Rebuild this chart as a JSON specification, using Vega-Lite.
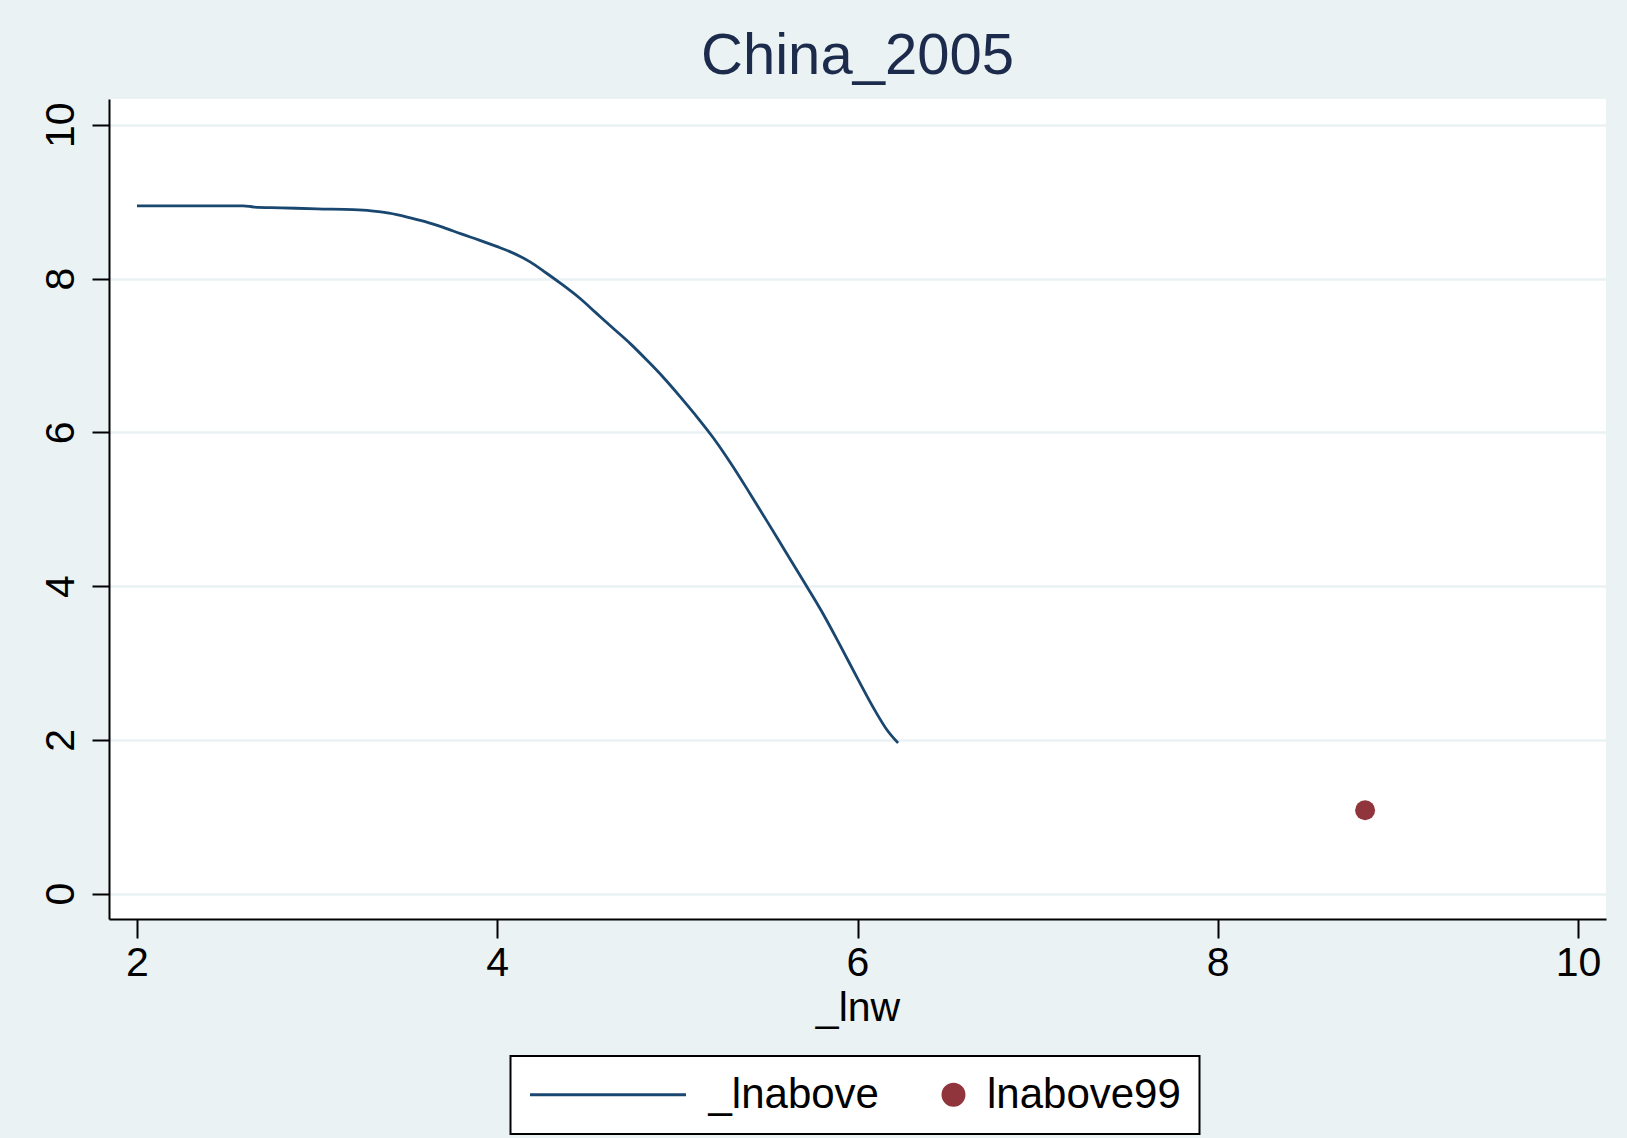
{
  "$schema": "https://vega.github.io/schema/vega-lite/v6.json",
  "autosize": {"type": "none"},
  "width": 1497,
  "height": 820,
  "padding": {"left": 109, "top": 99, "right": 21, "bottom": 219},
  "background": "#EAF2F3",
  "config": {
    "view": {"fill": "white", "stroke": null},
    "font": "Liberation Sans"
  },
  "title": {
    "text": "China_2005",
    "fontSize": 58,
    "font": "Liberation Sans",
    "fontWeight": "normal",
    "color": "#1c2b4b",
    "baseline": "alphabetic",
    "offset": -33,
    "anchor": "middle"
  },
  "encoding": {
    "x": {
      "field": "lnw",
      "type": "quantitative",
      "scale": {"domain": [1.8446, 10.1554], "nice": false, "zero": false},
      "axis": {
        "title": "_lnw",
        "values": [2, 4, 6, 8, 10],
        "grid": false,
        "domainColor": "black",
        "domainWidth": 2,
        "tickColor": "black",
        "tickWidth": 2,
        "tickSize": 19,
        "labelFontSize": 41,
        "labelFont": "Liberation Sans",
        "labelColor": "black",
        "labelPadding": 37,
        "labelBaseline": "alphabetic",
        "labelFlush": false,
        "labelOverlap": false,
        "titleFontSize": 41,
        "titleFont": "Liberation Sans",
        "titleFontWeight": "normal",
        "titleColor": "black",
        "titleBaseline": "alphabetic",
        "titleY": 101
      }
    },
    "y": {
      "field": "v",
      "type": "quantitative",
      "scale": {"domain": [-0.33, 10.335], "nice": false, "zero": false},
      "axis": {
        "title": null,
        "values": [0, 2, 4, 6, 8, 10],
        "grid": true,
        "gridColor": "#EAF2F3",
        "gridWidth": 2.5,
        "domainColor": "black",
        "domainWidth": 2,
        "tickColor": "black",
        "tickWidth": 2,
        "tickSize": 17,
        "labelAngle": -90,
        "labelAlign": "center",
        "labelBaseline": "alphabetic",
        "labelPadding": 19,
        "labelFontSize": 41,
        "labelFont": "Liberation Sans",
        "labelColor": "black",
        "labelFlush": false,
        "labelOverlap": false
      }
    },
    "color": {
      "field": "series",
      "type": "nominal",
      "scale": {"domain": ["_lnabove", "lnabove99"], "range": ["#1a476f", "#90353b"]},
      "legend": {
        "orient": "none",
        "legendX": 401.5,
        "legendY": 957,
        "direction": "horizontal",
        "columns": 2,
        "title": null,
        "symbolSize": 1764,
        "clipHeight": 41,
        "labelFontSize": 42,
        "labelFont": "Liberation Sans",
        "labelColor": "black",
        "labelOffset": 24,
        "labelLimit": 0,
        "columnPadding": 41.5,
        "padding": 18,
        "strokeColor": "black",
        "fillColor": "white",
        "encode": {
          "symbols": {
            "update": {
              "shape": {"signal": "datum.value === 'lnabove99' ? 'M-0.024,0A0.5,0.5,0,1,1,0.976,0A0.5,0.5,0,1,1,-0.024,0Z' : 'M-1,0L6.4286,0'"},
              "fill": {"signal": "datum.value === 'lnabove99' ? '#90353b' : 'transparent'"},
              "stroke": {"signal": "datum.value === 'lnabove99' ? 'transparent' : '#1a476f'"},
              "strokeWidth": {"value": 3},
              "opacity": {"value": 1}
            }
          },
          "labels": {
            "update": {
              "x": {"signal": "datum.value === '_lnabove' ? 180 : 66"}
            }
          },
          "legend": {
            "update": {"strokeWidth": {"value": 2}}
          }
        }
      }
    }
  },
  "layer": [
    {
      "data": {
        "values": [
          {"lnw": 2.0, "v": 8.945, "series": "_lnabove"},
          {"lnw": 2.3, "v": 8.945, "series": "_lnabove"},
          {"lnw": 2.59, "v": 8.945, "series": "_lnabove"},
          {"lnw": 2.65, "v": 8.93, "series": "_lnabove"},
          {"lnw": 2.8, "v": 8.92, "series": "_lnabove"},
          {"lnw": 3.0, "v": 8.905, "series": "_lnabove"},
          {"lnw": 3.2, "v": 8.895, "series": "_lnabove"},
          {"lnw": 3.3, "v": 8.88, "series": "_lnabove"},
          {"lnw": 3.4, "v": 8.85, "series": "_lnabove"},
          {"lnw": 3.5, "v": 8.8, "series": "_lnabove"},
          {"lnw": 3.6, "v": 8.74, "series": "_lnabove"},
          {"lnw": 3.7, "v": 8.665, "series": "_lnabove"},
          {"lnw": 3.8, "v": 8.58, "series": "_lnabove"},
          {"lnw": 3.9, "v": 8.5, "series": "_lnabove"},
          {"lnw": 4.0, "v": 8.415, "series": "_lnabove"},
          {"lnw": 4.07, "v": 8.35, "series": "_lnabove"},
          {"lnw": 4.18, "v": 8.22, "series": "_lnabove"},
          {"lnw": 4.27, "v": 8.075, "series": "_lnabove"},
          {"lnw": 4.35, "v": 7.94, "series": "_lnabove"},
          {"lnw": 4.46, "v": 7.74, "series": "_lnabove"},
          {"lnw": 4.55, "v": 7.55, "series": "_lnabove"},
          {"lnw": 4.64, "v": 7.36, "series": "_lnabove"},
          {"lnw": 4.74, "v": 7.15, "series": "_lnabove"},
          {"lnw": 4.83, "v": 6.94, "series": "_lnabove"},
          {"lnw": 4.92, "v": 6.72, "series": "_lnabove"},
          {"lnw": 5.015, "v": 6.465, "series": "_lnabove"},
          {"lnw": 5.1, "v": 6.226, "series": "_lnabove"},
          {"lnw": 5.2, "v": 5.926, "series": "_lnabove"},
          {"lnw": 5.3, "v": 5.585, "series": "_lnabove"},
          {"lnw": 5.4, "v": 5.215, "series": "_lnabove"},
          {"lnw": 5.5, "v": 4.835, "series": "_lnabove"},
          {"lnw": 5.6, "v": 4.45, "series": "_lnabove"},
          {"lnw": 5.7, "v": 4.065, "series": "_lnabove"},
          {"lnw": 5.8, "v": 3.675, "series": "_lnabove"},
          {"lnw": 5.9, "v": 3.245, "series": "_lnabove"},
          {"lnw": 6.0, "v": 2.8, "series": "_lnabove"},
          {"lnw": 6.1, "v": 2.37, "series": "_lnabove"},
          {"lnw": 6.16, "v": 2.142, "series": "_lnabove"},
          {"lnw": 6.225, "v": 1.96, "series": "_lnabove"}
        ]
      },
      "mark": {"type": "line", "strokeWidth": 2.8, "interpolate": "monotone"}
    },
    {
      "data": {
        "values": [
          {"lnw": 8.818, "v": 1.085, "series": "lnabove99"}
        ]
      },
      "mark": {"type": "point", "filled": true, "size": 400, "opacity": 1}
    }
  ]
}
